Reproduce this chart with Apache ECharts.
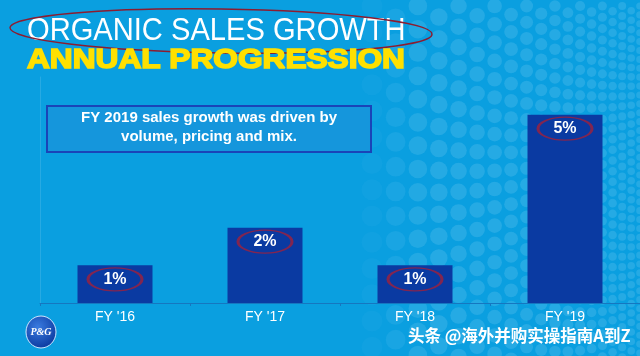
<!DOCTYPE html>
<html><head><meta charset="utf-8">
<script src="https://cdn.jsdelivr.net/npm/echarts@6/dist/echarts.min.js"></script>
<style>html,body{margin:0;padding:0;background:#0a9fe0;}#c{width:640px;height:356px;}</style>
</head><body><div id="c"></div>
<script>
var categories = ["FY '16", "FY '17", "FY '18", "FY '19"];
var growth = [1, 2, 1, 5];
var valueLabels = ["1%", "2%", "1%", "5%"];

// decorative halftone dots (background texture only)
var dots = [];
(function(){
  var x = 372, col = 0;
  while (x < 650) {
    var t = (x - 372) / 270;
    var r = 10.5 - 7 * t;
    var s = r * 2.5;
    var a = Math.min(1, (x - 355) / 70);
    for (var y = 6 + (col % 2 ? s / 2 : 0); y < 362; y += s) {
      dots.push({type: 'circle', silent: true, z: -10, shape: {cx: x, cy: y, r: r},
        style: {fill: 'rgba(110,200,240,' + (0.27 * a).toFixed(3) + ')'}});
    }
    x += s * 0.9;
    col++;
  }
})();

var chart = echarts.init(document.getElementById('c'));
var ellipsePath = 'path://M0,12 A27,12 0 1,0 54,12 A27,12 0 1,0 0,12 Z';
chart.setOption({
  backgroundColor: '#0a9fe0',
  animation: false,
  grid: {left: 40, right: 0, top: 77, bottom: 53},
  xAxis: {
    type: 'category', data: categories,
    axisLine: {lineStyle: {color: '#1577c0', width: 1}},
    axisTick: {show: true, length: 3, lineStyle: {color: '#1577c0'}},
    axisLabel: {color: '#ffffff', fontFamily: 'Liberation Sans', fontSize: 14, margin: 7}
  },
  yAxis: {
    type: 'value', min: 0, max: 6, interval: 1,
    axisLine: {show: true, lineStyle: {color: 'rgba(255,255,255,0.12)'}},
    axisLabel: {show: false}, splitLine: {show: false}, axisTick: {show: false}
  },
  series: [{
    type: 'bar', data: growth, barWidth: '50%',
    itemStyle: {color: '#0a3aa2'},
    label: {
      show: true, position: 'insideTop', distance: 6,
      formatter: function(p){ return valueLabels[p.dataIndex]; },
      color: '#ffffff', fontFamily: 'Liberation Sans', fontWeight: 'bold', fontSize: 16
    }
  }, {
    type: 'scatter', data: growth, symbol: ellipsePath, symbolSize: [54, 23],
    symbolOffset: [0, 14], z: 5, silent: true,
    itemStyle: {color: 'rgba(0,0,0,0)', borderColor: '#a0203c', borderWidth: 2}
  }],
  graphic: dots.concat([
    {type: 'text', x: 27, y: 15, scaleX: 0.91, style: {text: 'ORGANIC SALES GROWTH', fill: '#ffffff',
      font: '32px "Liberation Sans", sans-serif'}},
    {type: 'ellipse', shape: {cx: 221, cy: 31, rx: 211, ry: 22}, rotation: -0.015, originX: 221, originY: 31,
      style: {fill: 'none', stroke: '#8c1c30', lineWidth: 1.5}},
    {type: 'text', x: 27, y: 46, scaleX: 1.13, style: {text: 'ANNUAL PROGRESSION', fill: '#ffe000',
      stroke: '#ffe000', lineWidth: 1.6,
      font: 'bold 28px "Liberation Sans", sans-serif'}},
    {type: 'rect', shape: {x: 47, y: 106, width: 324, height: 46},
      style: {fill: '#1596dc', stroke: '#1a44b8', lineWidth: 2}},
    {type: 'text', x: 209, y: 108, style: {text: 'FY 2019 sales growth was driven by\nvolume, pricing and mix.',
      fill: '#ffffff', font: 'bold 15px "Liberation Sans", sans-serif', align: 'center', verticalAlign: 'top', lineHeight: 19}},
    {type: 'ellipse', shape: {cx: 41, cy: 332, rx: 15, ry: 16},
      style: {fill: {type: 'radial', x: 0.4, y: 0.35, r: 0.7, colorStops: [{offset: 0, color: '#3a7be0'}, {offset: 1, color: '#0b3aa0'}]}, stroke: '#cfe6ff', lineWidth: 1}},
    {type: 'text', x: 41, y: 332, style: {text: 'P&G', fill: '#ffffff', font: 'italic bold 10px "Liberation Serif", serif', align: 'center', verticalAlign: 'middle'}},
    {type: 'text', x: 408, y: 327, style: {text: '头条 @海外并购实操指南A到Z', fill: '#ffffff',
      font: 'bold 16.5px "Noto Sans CJK SC", sans-serif', shadowColor: 'rgba(0,0,0,0.85)', shadowBlur: 2, shadowOffsetX: 1, shadowOffsetY: 1}}
  ])
});
</script></body></html>
